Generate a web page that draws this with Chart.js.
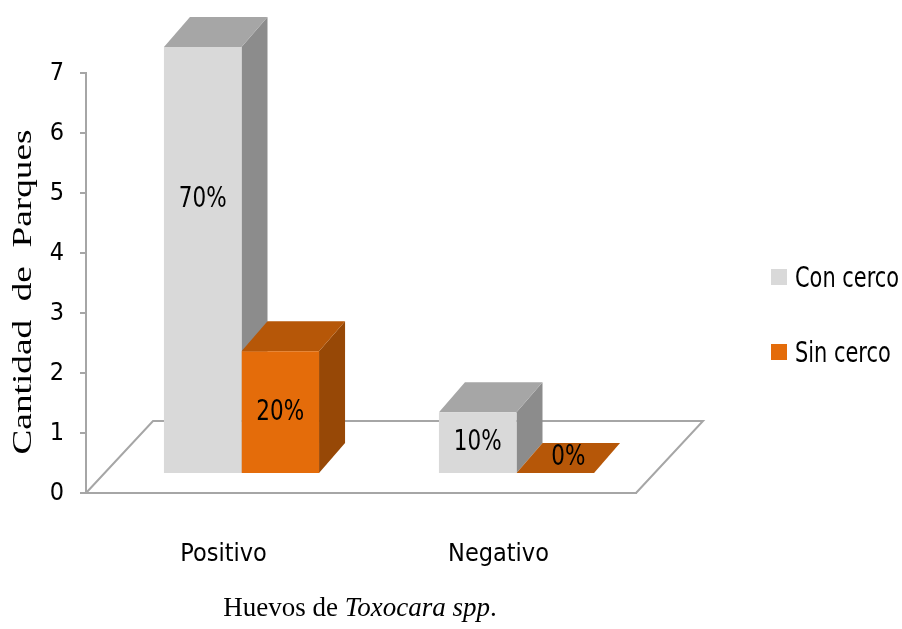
<!DOCTYPE html>
<html>
<head>
    <title>Huevos de Toxocara</title>
    <script src="https://cdn.jsdelivr.net/npm/chart.js"></script>
    <style>
        body { margin: 0; padding: 0; background: #fff; }
        #wrap { width: 902px; height: 629px; }
    </style>
</head>
<body>
<div id="wrap"><canvas id="chart" width="902" height="629"></canvas></div>
<script>
// data
const categories = ['Positivo', 'Negativo'];
const seriesNames = ['Con cerco', 'Sin cerco'];
const conCerco = [7, 1];
const sinCerco = [2, 0];
const yTicks = [0, 1, 2, 3, 4, 5, 6, 7];
const yTitle = 'Cantidad  de  Parques';

const total = conCerco.concat(sinCerco).reduce((a, b) => a + b, 0);

const narrow = "'Liberation Sans Narrow', 'DejaVu Sans Condensed', sans-serif";
const serif = "'Liberation Serif', 'DejaVu Serif', serif";

// front / top / side colours for each series
const faces = [
    { front: '#d9d9d9', top: '#a6a6a6', side: '#8c8c8c' },
    { front: '#e46c0a', top: '#b65708', side: '#974806' }
];

const depth = { dx: 26, dy: -30 };   // bar depth
const shift = { dx: 18, dy: -20 };   // bars sit back from the floor front edge
const floorDepth = { dx: 67, dy: -72 };

const box3d = {
    id: 'box3d',
    beforeDatasetsDraw(chart) {
        const { ctx, chartArea: a } = chart;
        // floor
        ctx.save();
        ctx.strokeStyle = '#a6a6a6';
        ctx.lineWidth = 2;
        ctx.beginPath();
        ctx.moveTo(a.left, a.bottom);
        ctx.lineTo(a.left + floorDepth.dx, a.bottom + floorDepth.dy);
        ctx.lineTo(a.right + floorDepth.dx, a.bottom + floorDepth.dy);
        ctx.lineTo(a.right, a.bottom);
        ctx.stroke();
        ctx.restore();

        ctx.save();
        ctx.translate(shift.dx, shift.dy);
        categories.forEach((c, i) => {
            chart.data.datasets.forEach((ds, d) => {
                const bar = chart.getDatasetMeta(d).data[i];
                const l = bar.x - bar.width / 2, r = bar.x + bar.width / 2;
                const t = bar.y, b = bar.base;
                // side
                ctx.fillStyle = faces[d].side;
                ctx.beginPath();
                ctx.moveTo(r, t);
                ctx.lineTo(r + depth.dx, t + depth.dy);
                ctx.lineTo(r + depth.dx, b + depth.dy);
                ctx.lineTo(r, b);
                ctx.closePath();
                ctx.fill();
                // top
                ctx.fillStyle = faces[d].top;
                ctx.beginPath();
                ctx.moveTo(l, t);
                ctx.lineTo(r, t);
                ctx.lineTo(r + depth.dx, t + depth.dy);
                ctx.lineTo(l + depth.dx, t + depth.dy);
                ctx.closePath();
                ctx.fill();
            });
        });
    },
    afterDatasetsDraw(chart) {
        const { ctx } = chart;
        ctx.fillStyle = '#000';
        ctx.font = '26px ' + narrow;
        ctx.textAlign = 'center';
        ctx.textBaseline = 'middle';
        chart.data.datasets.forEach((ds, d) => {
            chart.getDatasetMeta(d).data.forEach((bar, i) => {
                const v = ds.data[i];
                const txt = Math.round(v / total * 100) + '%';
                let x = bar.x, y = Math.min((bar.y + bar.base) / 2, bar.y + 153);
                if (v === 0) { x += depth.dx / 2; y = bar.base + depth.dy / 2; }
                ctx.save();
                ctx.translate(x, y);
                ctx.scale(0.92, 1.1);
                ctx.fillText(txt, 0, 0);
                ctx.restore();
            });
        });
        ctx.restore();
    },
    afterDraw(chart) {
        const { ctx } = chart;
        ctx.save();
        // legend
        ctx.font = '25px ' + narrow;
        ctx.textBaseline = 'middle';
        ctx.textAlign = 'left';
        const ly = [277, 352];
        seriesNames.forEach((n, d) => {
            ctx.fillStyle = faces[d].front;
            ctx.fillRect(771, ly[d] - 8, 16, 16);
            ctx.fillStyle = '#000';
            ctx.save();
            ctx.translate(795, ly[d] + 3);
            ctx.scale(0.93, 1.1);
            ctx.fillText(n, 0, 0);
            ctx.restore();
        });
        // y axis title, stretched along its length like the original
        ctx.save();
        ctx.font = '27px ' + serif;
        ctx.textAlign = 'center';
        ctx.textBaseline = 'middle';
        ctx.translate(24, 292);
        ctx.rotate(-Math.PI / 2);
        ctx.scale(325 / ctx.measureText(yTitle).width, 1);
        ctx.fillText(yTitle, 0, 0);
        ctx.restore();
        // x axis title with italic genus name
        const parts = [
            ['Huevos de ', '27px ' + serif],
            ['Toxocara spp', 'italic 27px ' + serif],
            ['.', '27px ' + serif]
        ];
        let w = 0;
        parts.forEach(p => { ctx.font = p[1]; w += ctx.measureText(p[0]).width; });
        let x = 360 - w / 2;
        ctx.textBaseline = 'alphabetic';
        parts.forEach(p => {
            ctx.font = p[1];
            ctx.fillText(p[0], x, 616);
            x += ctx.measureText(p[0]).width;
        });
        ctx.restore();
    }
};

new Chart(document.getElementById('chart'), {
    type: 'bar',
    data: {
        labels: categories,
        datasets: [
            { label: seriesNames[0], data: conCerco, backgroundColor: faces[0].front },
            { label: seriesNames[1], data: sinCerco, backgroundColor: faces[1].front }
        ].map(ds => Object.assign(ds, {
            yAxisID: 'y2', borderWidth: 0, clip: false,
            categoryPercentage: 0.564, barPercentage: 1
        }))
    },
    options: {
        responsive: false,
        animation: false,
        layout: { padding: { top: 73, right: 266, bottom: 0, left: 0 } },
        plugins: {
            legend: { display: false },
            tooltip: { enabled: false }
        },
        scales: {
            x: {
                grid: { display: false, drawTicks: false },
                border: { color: '#a6a6a6', width: 2 },
                ticks: { color: '#000', font: { family: narrow, size: 25 }, padding: 46 },
                afterFit(s) { s.height = 136; }
            },
            y: {
                min: 0, max: yTicks[yTicks.length - 1],
                afterBuildTicks(s) { s.ticks = yTicks.map(v => ({ value: v })); },
                grid: { drawOnChartArea: false, drawTicks: true, tickLength: 6, color: '#a6a6a6', lineWidth: 2 },
                border: { color: '#a6a6a6', width: 2 },
                ticks: { color: '#000', font: { family: narrow, size: 25 }, padding: 16 },
                afterFit(s) { s.width = 86; }
            },
            y2: { display: false, min: 0, max: 6.9 }
        }
    },
    plugins: [box3d]
});
</script>
</body>
</html>
